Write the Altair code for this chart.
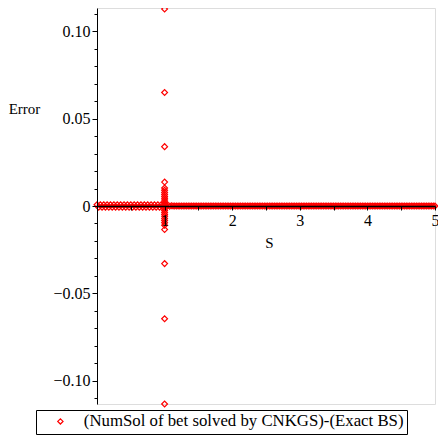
import altair as alt
import pandas as pd

# S grid of the near-zero band
band_s = [
    0.00, 0.05, 0.10, 0.15, 0.20, 0.25, 0.30, 0.35, 0.40, 0.45,
    0.50, 0.55, 0.60, 0.65, 0.70, 0.75, 0.80, 0.85, 0.90, 0.95,
    1.00, 1.05, 1.10, 1.15, 1.20, 1.25, 1.30, 1.35, 1.40, 1.45,
    1.50, 1.55, 1.60, 1.65, 1.70, 1.75, 1.80, 1.85, 1.90, 1.95,
    2.00, 2.05, 2.10, 2.15, 2.20, 2.25, 2.30, 2.35, 2.40, 2.45,
    2.50, 2.55, 2.60, 2.65, 2.70, 2.75, 2.80, 2.85, 2.90, 2.95,
    3.00, 3.05, 3.10, 3.15, 3.20, 3.25, 3.30, 3.35, 3.40, 3.45,
    3.50, 3.55, 3.60, 3.65, 3.70, 3.75, 3.80, 3.85, 3.90, 3.95,
    4.00, 4.05, 4.10, 4.15, 4.20, 4.25, 4.30, 4.35, 4.40, 4.45,
    4.50, 4.55, 4.60, 4.65, 4.70, 4.75, 4.80, 4.85, 4.90, 4.95,
    5.00,
]
band_err = [
    0.0007, 0.0007, 0.0007, 0.0007, 0.0007, 0.0007, 0.0007, 0.0007, 0.0007, 0.0007,
    0.0007, 0.0007, 0.0007, 0.0007, 0.0007, 0.0007, 0.0007, 0.0007, 0.0007, 0.0007,
    0.0007, 0.0004, 0.0002, 0.0000, 0.0000, 0.0000, 0.0000, 0.0000, 0.0000, 0.0000,
    0.0000, 0.0000, 0.0000, 0.0000, 0.0000, 0.0000, 0.0000, 0.0000, 0.0000, 0.0000,
    0.0000, 0.0000, 0.0000, 0.0000, 0.0000, 0.0000, 0.0000, 0.0000, 0.0000, 0.0000,
    0.0000, 0.0000, 0.0000, 0.0000, 0.0000, 0.0000, 0.0000, 0.0000, 0.0000, 0.0000,
    0.0000, 0.0000, 0.0000, 0.0000, 0.0000, 0.0000, 0.0000, 0.0000, 0.0000, 0.0000,
    0.0000, 0.0000, 0.0000, 0.0000, 0.0000, 0.0000, 0.0000, 0.0000, 0.0000, 0.0000,
    0.0000, 0.0000, 0.0000, 0.0000, 0.0000, 0.0000, 0.0000, 0.0000, 0.0000, 0.0000,
    0.0000, 0.0000, 0.0000, 0.0000, 0.0000, 0.0000, 0.0000, 0.0000, 0.0000, 0.0000,
    0.0000,
]

# the in-between grid points of the band
band2_s = [
    0.025, 0.075, 0.125, 0.175, 0.225, 0.275, 0.325, 0.375, 0.425, 0.475,
    0.525, 0.575, 0.625, 0.675, 0.725, 0.775, 0.825, 0.875, 0.925, 0.975,
    1.025, 1.075, 1.125, 1.175, 1.225, 1.275, 1.325, 1.375, 1.425, 1.475,
    1.525, 1.575, 1.625, 1.675, 1.725, 1.775, 1.825, 1.875, 1.925, 1.975,
    2.025, 2.075, 2.125, 2.175, 2.225, 2.275, 2.325, 2.375, 2.425, 2.475,
    2.525, 2.575, 2.625, 2.675, 2.725, 2.775, 2.825, 2.875, 2.925, 2.975,
    3.025, 3.075, 3.125, 3.175, 3.225, 3.275, 3.325, 3.375, 3.425, 3.475,
    3.525, 3.575, 3.625, 3.675, 3.725, 3.775, 3.825, 3.875, 3.925, 3.975,
    4.025, 4.075, 4.125, 4.175, 4.225, 4.275, 4.325, 4.375, 4.425, 4.475,
    4.525, 4.575, 4.625, 4.675, 4.725, 4.775, 4.825, 4.875, 4.925, 4.975,
]
band2_err = [
    -0.0007, -0.0007, -0.0007, -0.0007, -0.0007, -0.0007, -0.0007, -0.0007, -0.0007, -0.0007,
    -0.0007, -0.0007, -0.0007, -0.0007, -0.0007, -0.0007, -0.0007, -0.0007, -0.0007, -0.0007,
    -0.0005, -0.0002, 0.0000, 0.0000, 0.0000, 0.0000, 0.0000, 0.0000, 0.0000, 0.0000,
    0.0000, 0.0000, 0.0000, 0.0000, 0.0000, 0.0000, 0.0000, 0.0000, 0.0000, 0.0000,
    0.0000, 0.0000, 0.0000, 0.0000, 0.0000, 0.0000, 0.0000, 0.0000, 0.0000, 0.0000,
    0.0000, 0.0000, 0.0000, 0.0000, 0.0000, 0.0000, 0.0000, 0.0000, 0.0000, 0.0000,
    0.0000, 0.0000, 0.0000, 0.0000, 0.0000, 0.0000, 0.0000, 0.0000, 0.0000, 0.0000,
    0.0000, 0.0000, 0.0000, 0.0000, 0.0000, 0.0000, 0.0000, 0.0000, 0.0000, 0.0000,
    0.0000, 0.0000, 0.0000, 0.0000, 0.0000, 0.0000, 0.0000, 0.0000, 0.0000, 0.0000,
    0.0000, 0.0000, 0.0000, 0.0000, 0.0000, 0.0000, 0.0000, 0.0000, 0.0000, 0.0000,
]

# errors of the oscillating column at the strike S = 1
spike_s = 1.0
spike_err = [
    0.1128, 0.0650, 0.0340, 0.0137, 0.0103, 0.0090, 0.0078, 0.0066, 0.0055, 0.0044,
    0.0034, 0.0024, 0.0014, 0.0005, -0.0005, -0.0015, -0.0026, -0.0037, -0.0048,
    -0.0059, -0.0071, -0.0083, -0.0096, -0.0110, -0.0135, -0.0330, -0.0646, -0.1134,
]

series_name = "(NumSol of bet solved by CNKGS)-(Exact BS)"

y_ticks = [-0.11, -0.10, -0.09, -0.08, -0.07, -0.06, -0.05, -0.04, -0.03, -0.02, -0.01,
           0.0, 0.01, 0.02, 0.03, 0.04, 0.05, 0.06, 0.07, 0.08, 0.09, 0.10, 0.11]
x_ticks = [0.5, 1.0, 1.5, 2.0, 2.5, 3.0, 3.5, 4.0, 4.5, 5.0]

df = pd.DataFrame({
    "S": band_s + band2_s + [spike_s] * len(spike_err),
    "Error": band_err + band2_err + spike_err,
    "series": series_name,
})

FONT = "Liberation Serif"

chart = alt.Chart(df).mark_point(
    shape="diamond", filled=False, size=34, strokeWidth=1.2, opacity=1
).encode(
    x=alt.X("S:Q",
            scale=alt.Scale(domain=[0, 5], nice=False, zero=False),
            axis=alt.Axis(
                orient="bottom", offset=-198, values=x_ticks,
                labelExpr="datum.value % 1 == 0 ? format(datum.value, 'd') : ''",
                tickSize=4, tickColor="black", tickWidth=1,
                domainColor="black", domainWidth=1.6,
                labelFont=FONT, labelFontSize=16, labelColor="black",
                labelPadding=2, labelBaseline="top", labelFlush=False,
                grid=False, zindex=1,
                title="S", titleFont=FONT, titleFontSize=15, titleFontWeight="normal",
                titleColor="black", titleX=172, titleY=36,
                titleAlign="center", titleBaseline="middle", titleAnchor="start",
            )),
    y=alt.Y("Error:Q",
            scale=alt.Scale(domain=[-0.1134, 0.1134], nice=False, zero=False),
            axis=alt.Axis(
                orient="left", values=y_ticks,
                labelExpr="abs(round(datum.value*100)) % 5 == 0 ? (abs(datum.value) < 1e-9 ? '0' : format(datum.value, '.2f')) : ''",
                tickSize={"condition": {"test": "abs(round(datum.value*100)) % 5 == 0", "value": 5}, "value": 3},
                tickColor="black", tickWidth=1,
                domainColor="black", domainWidth=1,
                labelFont=FONT, labelFontSize=16, labelColor="black",
                labelPadding=2, labelFlush=False, labelBaseline="middle",
                grid=False, zindex=1,
                title="Error", titleFont=FONT, titleFontSize=15, titleFontWeight="normal",
                titleColor="black", titleAngle=0, titleX=-73, titleY=100,
                titleAlign="center", titleBaseline="middle", titleAnchor="start",
            )),
    color=alt.Color("series:N",
                    scale=alt.Scale(domain=[series_name], range=["#ff0000"]),
                    legend=alt.Legend(
                        orient="none", legendX=-61, legendY=402, title=None,
                        strokeColor="black", padding=3,
                        symbolOffset=13, labelOffset=15,
                        symbolType="diamond", symbolSize=28, symbolStrokeWidth=1.2,
                        labelFont=FONT, labelFontSize=16.8, labelColor="black",
                        labelLimit=500,
                    )),
).properties(
    width=338, height=396,
    autosize=alt.AutoSizeParams(type="none"),
    padding={"left": 89, "top": 0, "right": 3, "bottom": 32},
).configure_view(stroke=None).configure(background="white")

chart.save("out.html", embed_options={"renderer": "svg", "actions": False})
